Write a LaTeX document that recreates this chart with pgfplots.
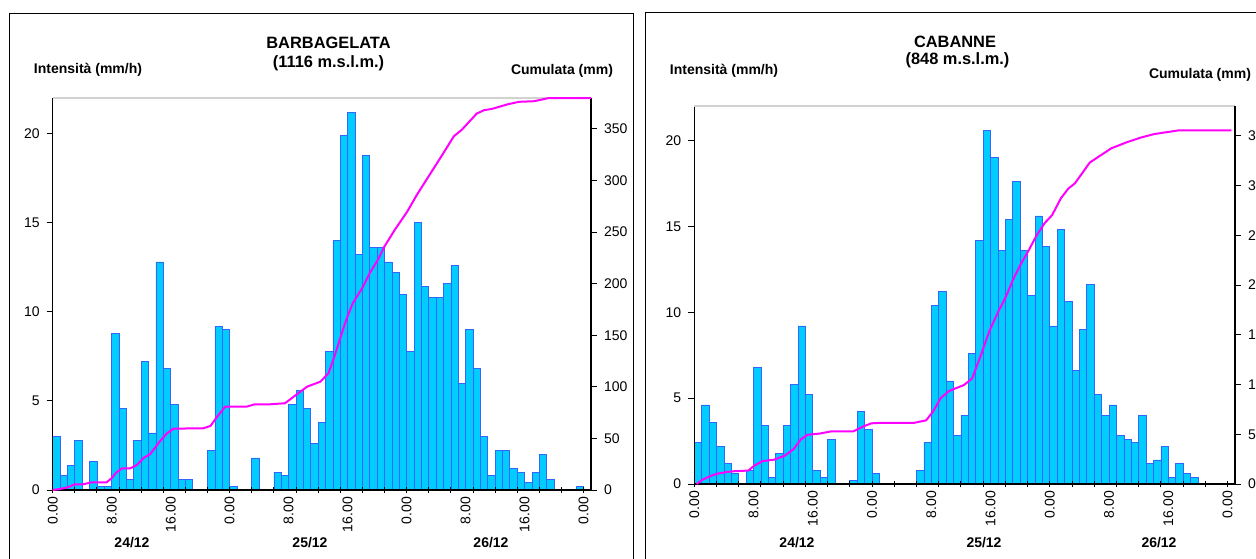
\documentclass[border=0pt]{standalone}
\usepackage{pgfplots}
\pgfplotsset{compat=1.18}
\usepackage{fontspec}
\setmainfont{Liberation Sans}
\definecolor{barfill}{RGB}{0,204,255}
\definecolor{baredge}{RGB}{51,102,255}
\definecolor{cum}{RGB}{255,0,255}
\pgfplotsset{
 common/.style={scale only axis, xmin=0, xmax=73,
  ticklabel style={font=\fontsize{7}{8}\selectfont},
  /pgf/number format/assume math mode=true,
  tick style={black, line width=0.5pt},
  major tick length=3pt},
 prim/.style={common, ymin=0, ymax=22,
  axis x line*=bottom, axis y line*=left,
  axis line style={black, line width=0.6pt},
  xtick={0,3,...,72}, xticklabels={},
  xtick align=center, ytick align=outside,
  ytick={0,5,...,20},
  extra x ticks={0,8,...,72},
  extra x tick labels={0.00,8.00,16.00,0.00,8.00,16.00,0.00,8.00,16.00,0.00},
  extra x tick style={major tick length=0pt, xticklabel style={rotate=90, anchor=east}},
  axis on top,
  extra description/.code={\draw[gray!35, line width=0.6pt] (rel axis cs:0,1) -- (rel axis cs:1,1);}},
 sec/.style={common, ymin=0, ymax=380, axis y line*=right, axis x line=none,
  xtick=\empty, ytick={0,50,...,350}, ytick align=outside,
  axis line style={black, line width=0.6pt}, clip=false},
 bars/.style={ybar, bar width=1, bar shift=0pt, fill=barfill, draw=baredge, line width=0.4pt},
 cumline/.style={cum, line width=1pt, line join=round, mark=none},
}
\begin{document}
\begin{tikzpicture}
\useasboundingbox (0,0) rectangle (628pt,279pt);
\clip (0,0) rectangle (628pt,279pt);
\draw[black, line width=0.5pt] (4.8pt,-5pt) rectangle (316.5pt,272pt);
\draw[black, line width=0.5pt] (322.5pt,-5pt) rectangle (660pt,272.5pt);

% ---------- BARBAGELATA ----------
\begin{axis}[prim, at={(26.35pt,34pt)}, anchor=south west, width=269.15pt, height=196pt]
\addplot[bars] coordinates {
(0.5,3.0) (1.5,0.8) (2.5,1.4) (3.5,2.8) (5.5,1.6) (6.5,0.2) (7.5,0.2) (8.5,8.8) (9.5,4.6)
(10.5,0.6) (11.5,2.8) (12.5,7.2) (13.5,3.2) (14.5,12.8) (15.5,6.8) (16.5,4.8) (17.5,0.6) (18.5,0.6)
(21.5,2.2) (22.5,9.2) (23.5,9.0) (24.5,0.2) (27.5,1.8) (30.5,1.0) (31.5,0.8) (32.5,4.8) (33.5,5.6)
(34.5,4.6) (35.5,2.6) (36.5,3.8) (37.5,7.8) (38.5,14.0) (39.5,19.9) (40.5,21.2) (41.5,13.2) (42.5,18.8)
(43.5,13.6) (44.5,13.6) (45.5,12.8) (46.5,12.2) (47.5,11.0) (48.5,7.8) (49.5,15.0) (50.5,11.4)
(51.5,10.8) (52.5,10.8) (53.5,11.6) (54.5,12.6) (55.5,6.0) (56.5,9.0) (57.5,6.8) (58.5,3.0) (59.5,0.8)
(60.5,2.2) (61.5,2.2) (62.5,1.2) (63.5,1.0) (64.5,0.4) (65.5,1.0) (66.5,2.0) (67.5,0.6) (71.5,0.2)};
\end{axis}
\begin{axis}[sec, at={(26.35pt,34pt)}, anchor=south west, width=269.15pt, height=196pt]
\addplot[cumline] coordinates {
(0,0) (1,1) (2,2.5) (3,5.5) (4.1,5.5) (5.2,7.3) (7.3,7.4) (8,11.5) (8.6,16.8) (9.4,21) (10.5,21)
(11.4,24.2) (12.4,31.5) (13.2,34.6) (14.6,47.8) (15.5,55) (16.4,59.5) (20.4,59.8) (21.4,62.1)
(22.3,71.1) (23.4,80.8) (26.3,80.8) (27.4,83.1) (29.5,83.1) (31.5,84.1) (33.6,95.4) (34.5,100.2)
(36.3,105) (37.4,113.2) (38.2,129.4) (39,147.2) (39.8,165) (40.7,181.2) (42.1,197.3) (43,210.3)
(44.1,223.2) (45,236.2) (46.4,252.3) (48.1,270.1) (49.4,286.3) (50.7,300.9) (53,326.8) (54.4,342.9)
(55.5,349.4) (57.5,364.9) (58.5,368.2) (59.6,369.5) (61.6,373.7) (63.2,376.3) (65.3,376.9)
(67.3,380) (73,380)};
\end{axis}

% ---------- CABANNE ----------
\begin{axis}[prim, at={(347.15pt,37pt)}, anchor=south west, width=270.35pt, height=189pt]
\addplot[bars] coordinates {
(0.5,2.4) (1.5,4.6) (2.5,3.6) (3.5,2.2) (4.5,1.2) (5.5,0.6) (7.5,0.8) (8.5,6.8) (9.5,3.4) (10.5,0.4)
(11.5,1.8) (12.5,3.4) (13.5,5.8) (14.5,9.2) (15.5,5.2) (16.5,0.8) (17.5,0.4) (18.5,2.6) (21.5,0.2)
(22.5,4.2) (23.5,3.2) (24.5,0.6) (30.5,0.8) (31.5,2.4) (32.5,10.4) (33.5,11.2) (34.5,6.0) (35.5,2.8)
(36.5,4.0) (37.5,7.6) (38.5,14.2) (39.5,20.6) (40.5,19.0) (41.5,13.6) (42.5,15.4) (43.5,17.6)
(44.5,13.6) (45.5,11.0) (46.5,15.6) (47.5,13.8) (48.5,9.2) (49.5,14.8) (50.5,10.6) (51.5,6.6)
(52.5,9.0) (53.5,11.6) (54.5,5.2) (55.5,4.0) (56.5,4.6) (57.5,2.8) (58.5,2.6) (59.5,2.4) (60.5,4.0)
(61.5,1.2) (62.5,1.4) (63.5,2.2) (64.5,0.4) (65.5,1.2) (66.5,0.6) (67.5,0.4)};
\end{axis}
\begin{axis}[sec, at={(347.15pt,37pt)}, anchor=south west, width=270.35pt, height=189pt]
\addplot[cumline] coordinates {
(0.3,0) (1.1,4.3) (2.1,7.8) (3,10.2) (4.5,12.2) (5.5,12.9) (7.3,13.5) (8.1,18.5) (9.2,23.0)
(10.8,24.5) (12.2,28.5) (13.4,35) (14.4,45) (15.3,49.5) (17,50.8) (18.4,52.8) (21.5,53) (22.7,57.5)
(23.9,61) (25,61.4) (29.6,61.4) (31.3,64) (32.2,72.5) (33.3,86.6) (34.4,93.5) (36.4,99.5) (37.5,106)
(38.7,129.7) (39.8,153) (41.0,172.7) (42.1,188.8) (43.0,204.9) (44.0,220) (45.1,234.3) (46.2,249.7)
(47.3,262.3) (48.3,270.2) (49.5,287.3) (50.5,297) (51.4,302.4) (53.4,323.2) (54.7,329.6)
(56.3,337.5) (58.4,343.6) (60.3,348.3) (62.1,351.8) (63.7,353.6) (65.3,355.4) (72.5,355.4)};
\end{axis}

% ---------- texts ----------
\begin{scope}[every node/.style={font=\bfseries\fontsize{8.2}{9.8}\selectfont, inner sep=0pt}]
\node at (164.25pt,257.4pt) {BARBAGELATA};
\node at (164.25pt,247.4pt) {(1116 m.s.l.m.)};
\node at (477.5pt,258.2pt) {CABANNE};
\node at (478.75pt,249pt) {(848 m.s.l.m.)};
\end{scope}
\begin{scope}[every node/.style={font=\bfseries\fontsize{7}{8.4}\selectfont, inner sep=0pt}]
\node at (44pt,244pt) {Intensità (mm/h)};
\node at (281pt,243.5pt) {Cumulata (mm)};
\node at (362pt,243.5pt) {Intensità (mm/h)};
\node at (600pt,241.5pt) {Cumulata (mm)};
\node at (66pt,7.5pt) {24/12};
\node at (155pt,7.5pt) {25/12};
\node at (245.5pt,7.5pt) {26/12};
\node at (398.5pt,7.5pt) {24/12};
\node at (492pt,7.5pt) {25/12};
\node at (579.5pt,7.5pt) {26/12};
\end{scope}
\end{tikzpicture}
\end{document}
